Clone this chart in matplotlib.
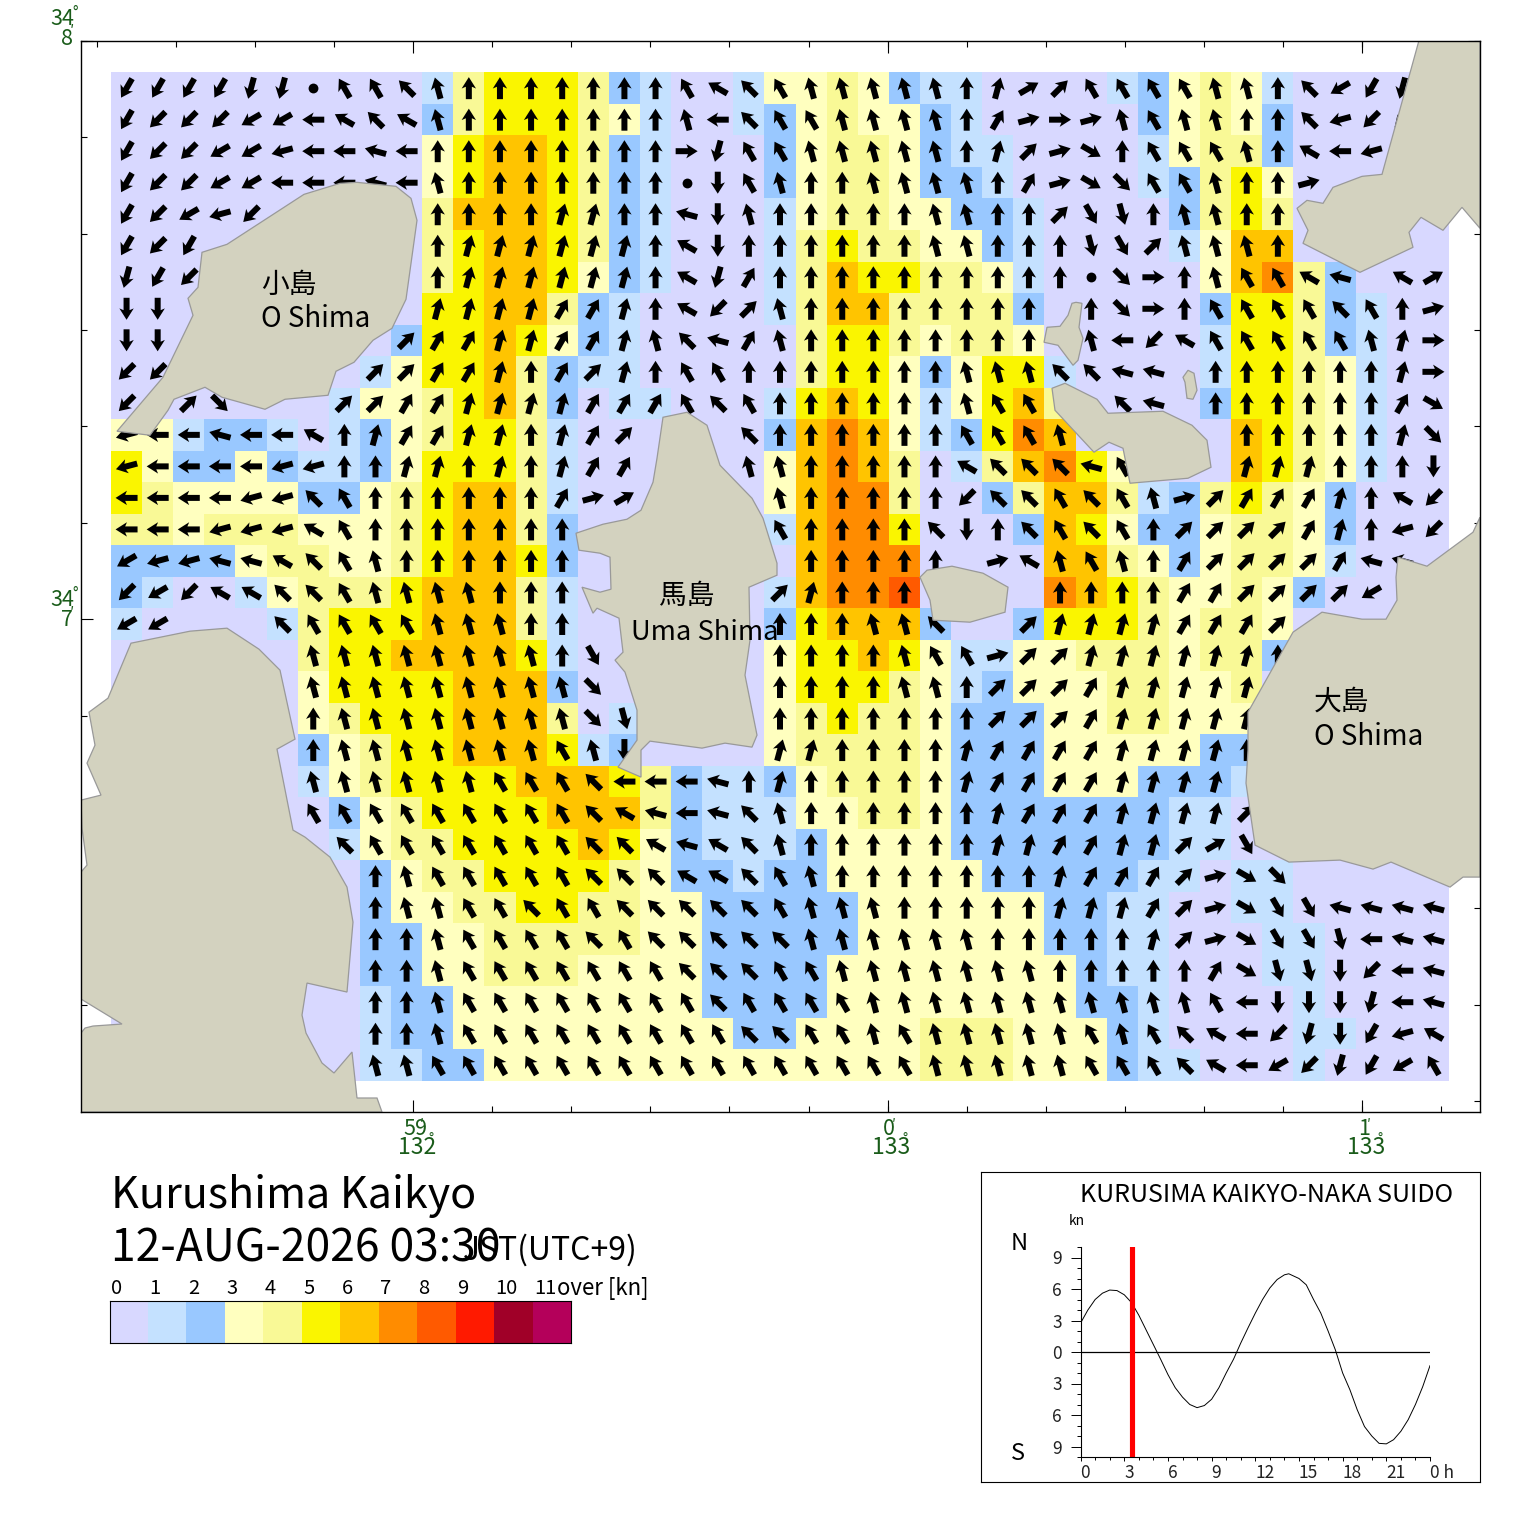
import numpy as np
import matplotlib
matplotlib.use("Agg")
import matplotlib.pyplot as plt
from matplotlib.colors import ListedColormap, BoundaryNorm
from matplotlib.patches import Polygon

plt.rcParams['font.family'] = ['Noto Sans CJK JP', 'DejaVu Sans']

W, H = 1520, 1533

# speed class of each cell, one char per column (0..11 kn)
speed_rows = [
    "0000000000 1455542100 1334321100 0012343100 000",
    "0000000000 2455543100 1234332100 0002343200 000",
    "0000000000 3566542100 0234432110 0001344200 000",
    "0000000000 3566542100 0234432210 0001245300 000",
    "0000000000 4666542100 0134433221 0000245400 000",
    "0000000000 4566542100 0145443321 0000136600 000",
    "0000000000 4566532100 0146554431 0000036742 000",
    "0000000000 5566421000 0146644442 0000025542 100",
    "0000000002 5565321000 0045543443 0000015542 100",
    "0000000013 5564211000 0045532355 1000015543 100",
    "0000000133 4564201100 0156531356 4000025543 100",
    "3312210123 4554100000 0267631257 6000006543 100",
    "5322321123 5554100000 0367640146 7530006543 100",
    "5433332234 5664100000 0367740024 6641245432 000",
    "4434443334 5664200000 0167750002 6532234432 000",
    "2222344334 5665200000 0067770000 6643234431 000",
    "2100134445 6664100000 0167780000 7654334320 000",
    "1000014555 6664100000 0256662002 5554344300 000",
    "0000004556 6665100000 0355653113 3444344200 000",
    "0000003555 5666200000 0355543123 3344334000 000",
    "0000003455 5666401000 0345443222 3344333000 000",
    "0000002345 5666512000 0344443222 3333322000 000",
    "0000001345 5556665421 1234443222 3332221000 000",
    "0000000234 5555666421 1133443222 2222110000 000",
    "0000000134 4555565321 1123333222 2222110000 000",
    "0000000023 4455554322 1223333322 2221101100 000",
    "0000000023 3445544332 2222333333 2211001100 000",
    "0000000022 3344444332 2222333333 2211000110 000",
    "0000000022 3344433332 2223333333 3211000110 000",
    "0000000012 2333333332 2223333333 3221000010 000",
    "0000000012 2333333333 2233334443 3321000011 000",
    "0000000011 2233333333 3333334443 3321100010 000",
]

# flow direction: a=north, each next letter 15 deg further anticlockwise
# * = calm (dot), . = no arrow
dir_rows = [
    "kkkkll*ccd baaaaaaace dcbbbbbaxu vccccbbadi klm",
    "kjjjiigede baaaaaaabg dccbbbbawt stbcbbaadh jj.",
    "kjjiihggfg aaaaaaaasl ccbbbbbaxv tqacccbaeg h..",
    "kjjiigggfg baaaaaaa*m cbaabbbbaw tqpccbaat. ...",
    "kjihj..... aaaaxxaafm baaaaabbaa vonabbaa.. ...",
    "kjk....... axxxxxxaem aaaaaabbaa anovbbba.. ...",
    "lkj....... axxxxxxael waaaaaaaaa a*psabccef .eu",
    "mm........ xxxxwwxaej vbaaaaaaaa .apsaccccd cat",
    "mm.......v wwxxwwxbdf wbaaaaaaaa .bgjeccccc bxs",
    "jj......vv wwxawvxacc aaaaaaabbb ddff.aaaaa axs",
    "j.vp...vvw wxxxxwwwcd caaaaaabcc ..df.aaaaa awq",
    "hggfggeaxw wxxaxwv... daaaaaaccc b.....aaaa axp",
    "hgggghhaax xaxaxww... bbaaaaaedd dfc...xxxa aam",
    "gggghhdcaa aaaawtu... .baaaaajdd cdcbtvwwwx aej",
    "ggghhhecaa aaaaa..... .caaaadmad cdcavvvvwx ahj",
    "ihhffedcba aaaaa..... ..aaaaa.te bcbawvvvvw ff.",
    "jijeeddcbb bbaaa..... .vxaaa.... aaaawwvvvv i..",
    "ii...dcccc bbbaa..... .aaabbd..v xxxxwwwv.. ...",
    "......bbbb bbbbao.... .aaaabcctv vxxxxxxa.. ...",
    "......bbbb bbbbbp.... .aaaabbavv vwxxxxx... ...",
    "......abbb bbbbbpn... .aaaaaaavv vwxxxxxa.. ...",
    "......abbb bbbbcbm... .xxaaaaxww wwxxxxa... ...",
    "......bbbb bbcccdgggf axaaaaaxww wwxxxx.... ...",
    "......cccc cccccdefgf dbaaaaaaxw wwxxxxv... ...",
    ".......dcc cccccddefe dbaaaaaaxx wwxxvuo... ...",
    "........ab cccccdddee dcbaaaaaaa xwwwvtqp.. ...",
    "........ab bccdccdddd dcbbbaaaaa xxxwvtqoof fff",
    "........aa bccccdcddd ddbbbbbbaa aaaxvtqoon gff",
    "........aa bcccccccdd dccbbbbbbb aaaaawqnnm jgf",
    "........aa bccccccccd ccccbbbbbb bbbbbcgmmm lgf",
    "........aa bccccccccc ddccbcbbbb bcbcdegjlm khe",
    "........bb cccccccccc ccccccbbbb bcccdegijl kic",
]

kn_labels = ["0", "1", "2", "3", "4", "5", "6", "7", "8", "9", "10", "11"]
kn_colors = ["#d8d8ff", "#c4e1ff", "#99c8ff", "#ffffbf", "#f9f996", "#faf500",
             "#ffc400", "#ff8c00", "#ff5a00", "#ff1a00", "#a00028", "#b4005a"]

# land outlines, map pixels
oshima_small = [(117,431),(150,435),(168,410),(174,399),(205,387),(222,397),(265,409),(285,399),
                (328,395),(336,371),(354,362),(373,340),(392,328),(406,299),(417,220),(411,198),
                (396,186),(357,182),(340,183),(304,194),(227,244),(202,252),(198,287),(188,298),
                (193,315),(163,377)]
uma_shima = [(663,417),(687,412),(707,425),(720,465),(752,498),(763,518),(777,563),(777,575),
             (749,587),(750,640),(745,675),(757,735),(752,747),(725,743),(702,748),(650,741),
             (641,750),(641,777),(618,767),(637,740),(637,710),(625,672),(615,660),(623,652),
             (619,618),(597,608),(593,613),(582,587),(600,592),(611,589),(610,557),(600,553),
             (579,550),(576,533),(603,524),(627,519),(641,510),(653,482),(657,458)]
islet_mid = [(920,577),(927,570),(952,566),(983,573),(1008,587),(1005,612),(970,622),(933,620),(930,600)]
land_sw = [(131,643),(190,631),(227,628),(259,649),(280,670),(295,739),(277,749),(293,830),(305,837),
           (330,857),(347,887),(353,922),(347,992),(307,983),(302,1015),(306,1033),(322,1063),
           (334,1073),(352,1052),(357,1098),(377,1098),(382,1112),(81,1112),(81,1033),(85,1028),
           (93,1026),(122,1024),(81,999),(81,872),(87,865),(82,828),(81,800),(101,795),(87,763),
           (95,745),(89,712),(108,698)]
land_ne = [(1419,40),(1382,174),(1362,176),(1333,187),(1323,203),(1307,200),(1297,208),(1308,230),
           (1303,243),(1360,272),(1413,247),(1409,232),(1421,217),(1443,230),(1462,207),(1480,228),(1480,40)]
islet_n = [(1072,303),(1076,302),(1082,303),(1079,327),(1083,338),(1078,360),(1073,365),(1058,345),
           (1044,342),(1047,327),(1060,326),(1068,315)]
islet_tiny = [(1183,377),(1188,370),(1194,373),(1197,390),(1193,399),(1187,398),(1185,382)]
island_e = [(1052,388),(1065,383),(1097,399),(1108,413),(1163,411),(1192,425),(1207,440),(1211,467),
            (1188,478),(1130,483),(1123,448),(1109,442),(1094,452),(1055,410)]
oshima_big = [(1480,517),(1473,532),(1427,566),(1398,557),(1396,577),(1397,600),(1386,619),(1362,619),
              (1322,612),(1293,632),(1248,712),(1248,750),(1246,783),(1255,845),(1289,862),(1340,860),
              (1373,869),(1391,862),(1450,887),(1463,877),(1480,877)]
land_parts = [oshima_small, uma_shima, islet_mid, land_sw, land_ne, islet_n, islet_tiny, island_e, oshima_big]

# tide curve at the strait
tide_hours = [0,0.5,1,1.5,2,2.5,3,3.5,4,4.5,5,5.5,6,6.5,7,7.5,8,8.5,9,9.5,10,10.5,11,11.5,12,12.5,
              13,13.5,14,14.3,15,15.5,16,16.5,17,17.5,18,18.5,19,19.5,20,20.5,21,21.5,22,22.5,23,23.5,24]
tide_knots = [2.76,4.0,5.0,5.6,5.9,5.85,5.45,4.7,3.5,2.1,0.7,-0.7,-2.15,-3.4,-4.3,-5.0,-5.3,-5.1,-4.5,-3.4,
              -2.0,-0.7,0.85,2.3,3.7,5.0,6.1,6.9,7.35,7.45,7.0,6.4,5.0,3.7,2.0,0.2,-2.0,-3.6,-5.5,-7.1,
              -8.0,-8.7,-8.75,-8.35,-7.55,-6.45,-5.0,-3.3,-1.3]
now_hour = 3.5


def fx(px):
    return px / W


def fy(py):
    return 1 - py / H


def px_axes(x0, y0, x1, y1):
    return fig.add_axes([fx(x0), fy(y1), (x1 - x0) / W, (y1 - y0) / H])


def label(px, py, s, size, **kw):
    kw.setdefault('va', 'center')
    kw.setdefault('ha', 'left')
    fig.text(fx(px), fy(py), s, fontsize=size, **kw)


speed = np.array([[int(c) for c in r.replace(" ", "")] for r in speed_rows])
dirs = [r.replace(" ", "") for r in dir_rows]
letters = "abcdefghijklmnopqrstuvwx"

fig = plt.figure(figsize=(W / 100, H / 100), dpi=100)

ax = px_axes(81, 41, 1480, 1112)
ax.set_xlim(81, 1480)
ax.set_ylim(1112, 41)

cmap = ListedColormap(kn_colors)
norm = BoundaryNorm(np.arange(13), 12)
x_edges = np.linspace(111, 1449, speed.shape[1] + 1)
y_edges = np.linspace(72, 1081, speed.shape[0] + 1)
ax.pcolormesh(x_edges, y_edges, speed, cmap=cmap, norm=norm, zorder=1)

xc = (x_edges[:-1] + x_edges[1:]) / 2
yc = (y_edges[:-1] + y_edges[1:]) / 2
ax_x, ax_y, ax_u, ax_v, dot_x, dot_y = [], [], [], [], [], []
for j, row in enumerate(dirs):
    for i, c in enumerate(row):
        if c == '*':
            dot_x.append(xc[i])
            dot_y.append(yc[j])
        elif c in letters:
            b = np.radians(-15 * letters.index(c))
            ax_x.append(xc[i])
            ax_y.append(yc[j])
            ax_u.append(np.sin(b))
            ax_v.append(np.cos(b))

ax.quiver(ax_x, ax_y, ax_u, ax_v, angles='uv', scale_units='dots', scale=1 / 22, units='dots',
          width=6, headwidth=2.4, headlength=1.9, headaxislength=1.6, pivot='mid', color='black', zorder=2)
ax.scatter(dot_x, dot_y, s=50, color='black', linewidths=0, zorder=2)

for part in land_parts:
    ax.add_patch(Polygon(part, closed=True, facecolor='#d3d2bf', edgecolor='#999999', linewidth=0.9, zorder=3))

# ticks every 10 seconds of arc, long ones on whole minutes
ax.set_xticks([413, 888, 1362])
ax.set_xticks(np.arange(413 - 79.1 * 4, 1480, 79.1), minor=True)
ax.set_yticks([41, 619])
ax.set_yticks(np.arange(40.6, 1112, 96.4), minor=True)
ax.tick_params(which='major', direction='in', length=8.6, width=0.8, top=True, right=True,
               labelbottom=False, labelleft=False)
ax.tick_params(which='minor', direction='in', length=4.3, width=0.8, top=True, right=True)
for s in ax.spines.values():
    s.set_linewidth(1)
    s.set_zorder(6)
ax.set_axisbelow(False)

# place names
ax.text(261, 285, "小島", fontsize=20, va='center', zorder=5)
ax.text(261, 319, "O Shima", fontsize=20, va='center', zorder=5)
ax.text(659, 596, "馬島", fontsize=20, va='center', zorder=5)
ax.text(631, 632, "Uma Shima", fontsize=19.7, va='center', zorder=5)
ax.text(1314, 701, "大島", fontsize=20, va='center', zorder=5)
ax.text(1314, 737, "O Shima", fontsize=20, va='center', zorder=5)

# map frame labels
green = '#1a5c1a'
for py, deg, minute in [(19, "34", "8"), (600, "34", "7")]:
    label(50, py, deg, 15.5, color=green)
    label(72, py - 6, "°", 11, color=green)
    label(61, py + 20, minute, 15.5, color=green)
    label(70, py + 14, "′", 11, color=green)
for px, minute, deg in [(403, "59", "132"), (883, "0", "133"), (1358, "1", "133")]:
    left = 398 if px == 403 else px - 11
    label(px, 1129, minute, 15.5, color=green)
    label(px + (17 if len(minute) == 2 else 9), 1125, "′", 10, color=green)
    label(left, 1147, deg, 16.5, color=green)
    label(left + 30, 1140, "°", 10, color=green)

# title block
label(111, 1196, "Kurushima Kaikyo", 31)
label(111, 1248, "12-AUG-2026 03:30", 32)
label(463, 1250, "JST(UTC+9)", 23)

# colour key
key = px_axes(109.5, 1301, 571, 1343)
key.pcolormesh(np.arange(13), [0, 1], [np.arange(12)], cmap=cmap, norm=norm)
key.set_xticks([])
key.set_yticks([])
for i, t in enumerate(kn_labels):
    label(111 + i * 38.45, 1289, t, 14.5)
label(557, 1289, "over [kn]", 16)

# tide panel
frame = px_axes(981, 1172, 1480, 1482)
frame.set_xticks([])
frame.set_yticks([])

tide = px_axes(1080.6, 1247, 1430, 1457)
tide.set_facecolor('none')
tide.set_xlim(0, 24)
tide.set_ylim(-10, 10)
tide.plot(tide_hours, tide_knots, color='black', linewidth=0.7)
tide.axhline(0, color='black', linewidth=0.9)
tide.axvline(now_hour, color='#ff0000', linewidth=3.7)
for side in ['top', 'right']:
    tide.spines[side].set_visible(False)
tide.set_xticks(range(0, 25, 3))
tide.set_xticklabels(["0", "3", "6", "9", "12", "15", "18", "21", "0 h"], ha='left', fontsize=12.5, color='#222222')
tide.set_xticks(range(25), minor=True)
tide.set_yticks([-9, -6, -3, 0, 3, 6, 9])
tide.set_yticklabels(["9", "6", "3", "0", "3", "6", "9"], fontsize=12.5, color='#222222')
tide.set_yticks(range(-10, 11), minor=True)
tide.tick_params(axis='y', which='major', length=7.5, width=0.7, pad=6)
tide.tick_params(axis='y', which='minor', length=3, width=0.7)
tide.tick_params(axis='x', which='major', length=3, width=0.7, pad=2)
tide.tick_params(axis='x', which='minor', length=2, width=0.7)

label(1080, 1195, "KURUSIMA KAIKYO-NAKA SUIDO", 18)
label(1069, 1221, "kn", 10)
label(1011, 1244, "N", 17)
label(1011, 1454, "S", 17)

fig.savefig("out.png", dpi=100)
